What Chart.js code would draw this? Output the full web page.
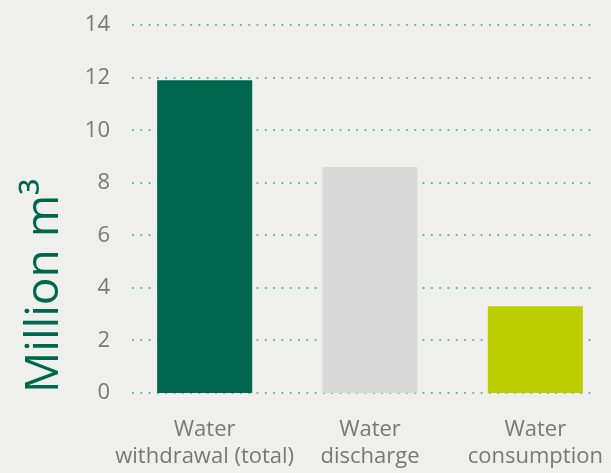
<!DOCTYPE html>
<html>
<head>
<meta charset="utf-8">
<script src="https://cdn.jsdelivr.net/npm/chart.js@4"></script>
<style>
  html, body { margin: 0; padding: 0; background: #efefec; }
  #wrap { width: 611px; height: 473px; overflow: hidden; }
  #inner { width: 618px; height: 473px; position: relative; }
</style>
</head>
<body>
<div id="wrap"><div id="inner"><canvas id="aguaChart"></canvas></div></div>
<script>
// Dados
const categorias = [['Water', 'withdrawal (total)'], ['Water', 'discharge'], ['Water', 'consumption']];
const valores = [11.9, 8.6, 3.3];
const cores = ['#00674f', '#d9d9d9', '#bccd00'];
const tituloY = 'Million m³';

// Linhas de grade pontilhadas desenhadas à mão (pontos redondos)
const gradePontilhada = {
    id: 'gradePontilhada',
    beforeDatasetsDraw(chart) {
        const ctx = chart.ctx;
        const area = chart.chartArea;
        const y = chart.scales.y;
        ctx.save();
        ctx.strokeStyle = '#5fae9b';
        ctx.lineWidth = 2.2;
        ctx.lineCap = 'round';
        ctx.setLineDash([0, 8.3]);
        y.ticks.forEach(t => {
            const py = Math.round(y.getPixelForValue(t.value));
            ctx.beginPath();
            ctx.moveTo(area.left + 11, py);
            ctx.lineTo(area.right - 25, py);
            ctx.stroke();
        });
        ctx.restore();
    }
};

const ctx = document.getElementById('aguaChart').getContext('2d');
const aguaChart = new Chart(ctx, {
    type: 'bar',
    data: {
        labels: categorias,
        datasets: [{
            data: valores,
            backgroundColor: cores,
            borderWidth: 0,
            categoryPercentage: 1,
            barPercentage: 0.575
        }]
    },
    options: {
        responsive: true,
        maintainAspectRatio: false,
        animation: false,
        layout: { padding: { top: 10, right: 0, bottom: 0, left: 0 } },
        plugins: {
            legend: { display: false },
            tooltip: { enabled: false }
        },
        scales: {
            y: {
                min: 0,
                max: 14,
                ticks: {
                    stepSize: 2,
                    color: '#787878',
                    padding: 12,
                    font: { family: 'Open Sans', size: 22 }
                },
                grid: { display: false, drawTicks: false },
                border: { display: false },
                title: {
                    display: true,
                    text: tituloY,
                    align: 'start',
                    color: '#00674f',
                    padding: { top: 17, bottom: 0 },
                    font: { family: 'Open Sans', size: 46, weight: 400 }
                },
                afterFit(scale) { scale.width = 122; }
            },
            x: {
                ticks: {
                    color: '#787878',
                    padding: 0,
                    maxRotation: 0,
                    minRotation: 0,
                    autoSkip: false,
                    font: { family: 'Open Sans', size: 22, lineHeight: 1.2 }
                },
                grid: { display: false, drawTicks: true, tickLength: 24 },
                border: { display: false },
                afterFit(scale) { scale.height = 80; }
            }
        }
    },
    plugins: [gradePontilhada]
});
</script>
</body>
</html>
